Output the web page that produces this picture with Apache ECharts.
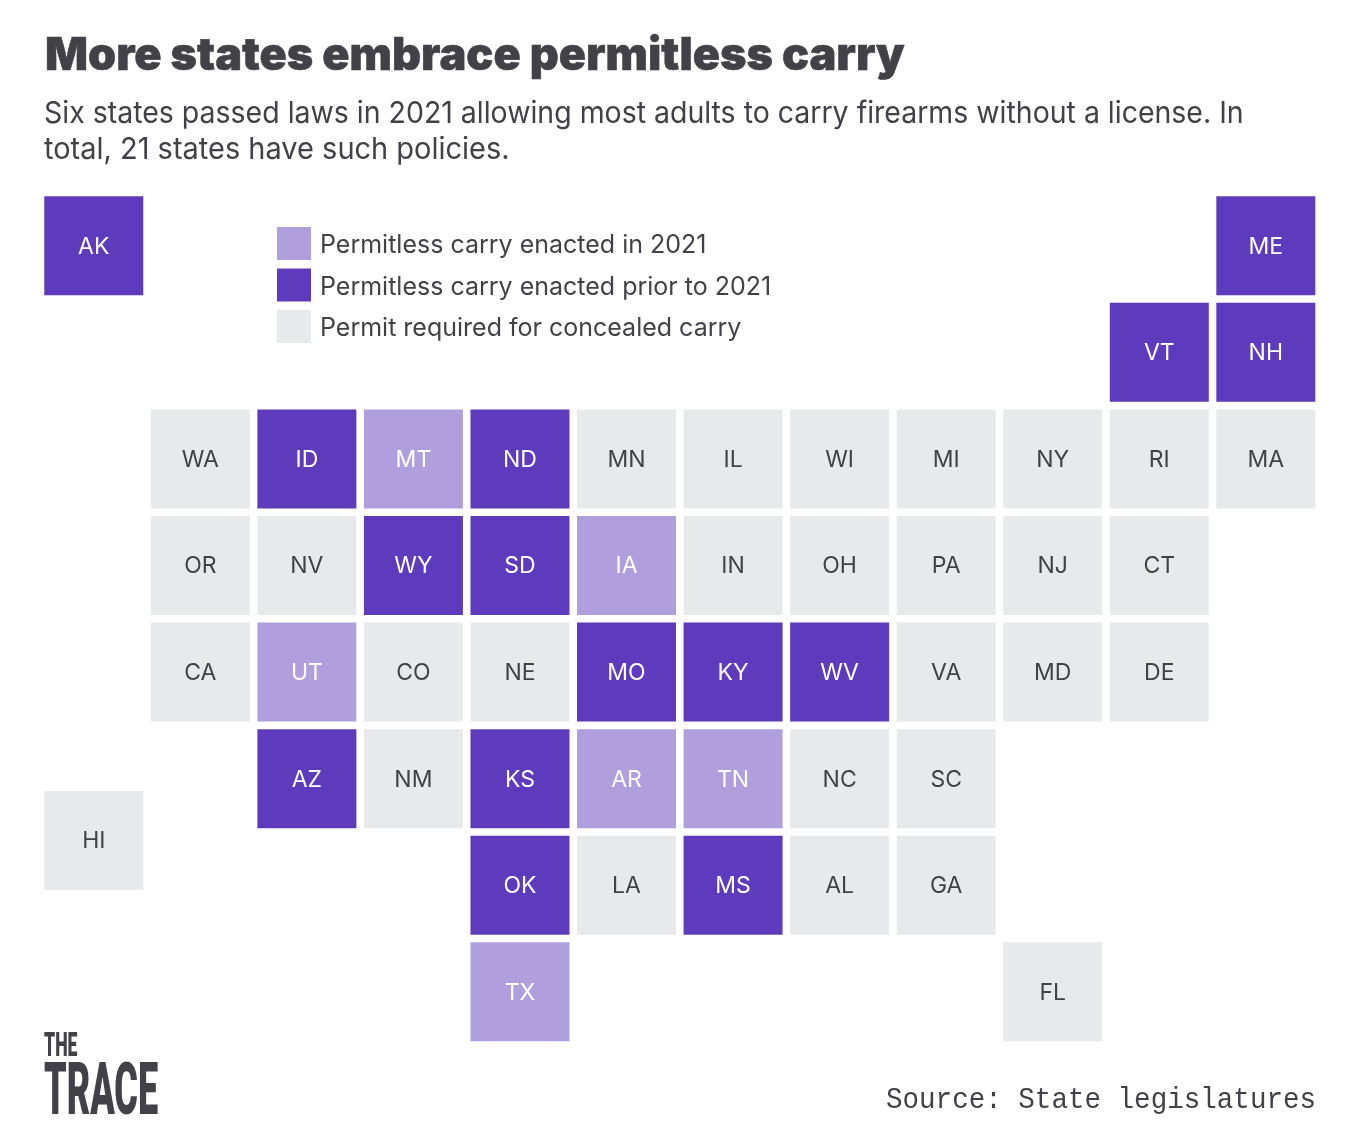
<!DOCTYPE html>
<html><head><meta charset="utf-8">
<style>html,body{margin:0;padding:0;background:#fff}#c{width:1360px;height:1148px}</style>
<script src="https://cdn.jsdelivr.net/npm/echarts@6/dist/echarts.min.js"></script>
</head><body><div id="c"></div>
<script>
const seriesNames = ['Permitless carry enacted in 2021','Permitless carry enacted prior to 2021','Permit required for concealed carry'];
const colors = ['#AF9FDD','#5E3BBC','#E8E9EB'];
const labelColors = ['#FFFFFF','#FFFFFF','#424147'];
// state, column, row
const enacted2021 = [['MT',3,2],['IA',5,3],['UT',2,4],['AR',5,5],['TN',6,5],['TX',4,7]];
const enactedPrior = [['AK',0,0],['ME',11,0],['VT',10,1],['NH',11,1],['ID',2,2],['ND',4,2],['WY',3,3],['SD',4,3],['MO',5,4],['KY',6,4],['WV',7,4],['AZ',2,5],['KS',4,5],['OK',4,6],['MS',6,6]];
const permitRequired = [['WA',1,2],['MN',5,2],['IL',6,2],['WI',7,2],['MI',8,2],['NY',9,2],['RI',10,2],['MA',11,2],
 ['OR',1,3],['NV',2,3],['IN',6,3],['OH',7,3],['PA',8,3],['NJ',9,3],['CT',10,3],
 ['CA',1,4],['CO',3,4],['NE',4,4],['VA',8,4],['MD',9,4],['DE',10,4],
 ['NM',3,5],['NC',7,5],['SC',8,5],['HI',0,5.58],['LA',5,6],['AL',7,6],['GA',8,6],['FL',9,7]];
const groups = [enacted2021, enactedPrior, permitRequired];
const titleText = 'More states embrace permitless carry';
const subtitleLines = ['Six states passed laws in 2021 allowing most adults to carry firearms without a license. In','total, 21 states have such policies.'];
const sourceText = 'Source: State legislatures';
const ink = '#424147';
const chart = echarts.init(document.getElementById('c'), null, {renderer:'canvas'});
chart.setOption({
  animation:false, backgroundColor:'#fff',
  grid:{left:40.5,top:192.5,width:1278.6,height:852.6,containLabel:false},
  xAxis:{type:'value',min:-0.5,max:11.5,show:false},
  yAxis:{type:'value',min:-0.5,max:7.5,inverse:true,show:false},
  legend:{orient:'vertical',left:277,top:227,padding:0,itemWidth:34,itemHeight:33,itemGap:8.5,icon:'rect',
    data:seriesNames,selectedMode:false,
    formatter:name=>'{a|'+name+'}',
    textStyle:{rich:{a:{fontFamily:'Inter',fontSize:25,color:ink,padding:[4,0,0,4]}}}},
  series:groups.map((g,i)=>({
    type:'scatter',name:seriesNames[i],symbol:'rect',symbolSize:[99,99],
    itemStyle:{color:colors[i],opacity:1},
    label:{show:true,position:'inside',offset:[0,1],formatter:p=>p.data[2],color:labelColors[i],fontFamily:'Inter',fontSize:23},
    data:g.map(d=>[d[1],d[2],d[0]])
  })),
  graphic:[
    {type:'text',x:45,y:34,style:{text:titleText,fontFamily:'Inter',fontWeight:900,fontSize:45,fill:ink,stroke:ink,lineWidth:0.5}},
    {type:'text',x:44,y:99,scaleX:0.949,style:{text:subtitleLines[0],fontFamily:'Inter',fontSize:30,fill:ink}},
    {type:'text',x:44,y:135,scaleX:0.966,style:{text:subtitleLines[1],fontFamily:'Inter',fontSize:30,fill:ink}},
    {type:'text',x:886,y:1085,scaleX:0.925,style:{text:sourceText,fontFamily:'Liberation Mono',fontSize:29.8,fill:ink}},
    {type:'text',x:44,y:1030,scaleX:0.52,style:{text:'THE',fontFamily:'Roboto',fontWeight:900,fontSize:34,fill:ink}},
    {type:'text',x:44,y:1060,scaleX:0.5,style:{text:'TRACE',fontFamily:'Roboto',fontWeight:900,fontSize:72,fill:ink}}
  ]
});
</script></body></html>
